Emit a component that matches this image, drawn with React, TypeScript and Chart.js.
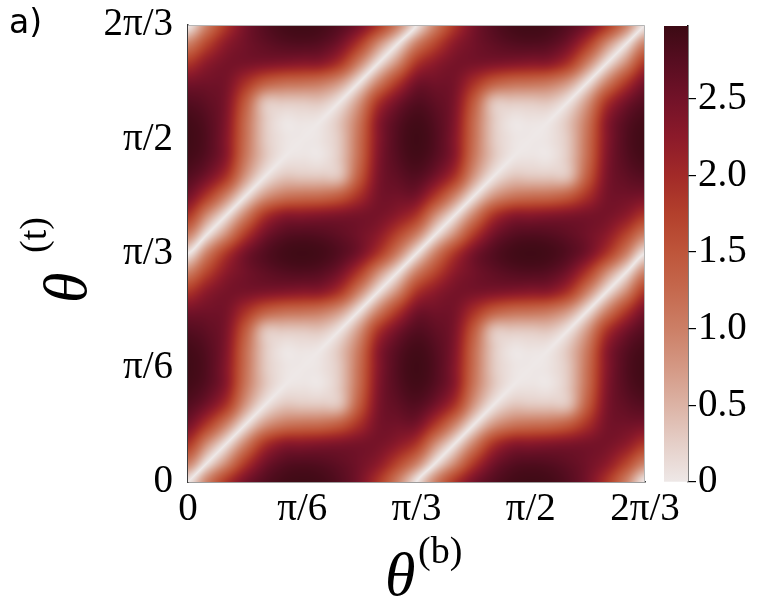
import React, { useEffect, useRef } from 'react';
import { Chart, registerables } from 'chart.js';

Chart.register(...registerables);

const PI = Math.PI;
const thetaMax = (2 * PI) / 3;

// axis ticks
const tickValues = [0, PI / 6, PI / 3, PI / 2, (2 * PI) / 3];
const tickLabels = ['0', 'π/6', 'π/3', 'π/2', '2π/3'];

// colorbar
const colorbarTicks = [0, 0.5, 1, 1.5, 2, 2.5];
const colorbarLabels = ['0', '0.5', '1.0', '1.5', '2.0', '2.5'];
const colorMax = 2.975;
const cmapValues = [0, 0.25, 0.5, 0.75, 1.0, 1.25, 1.5, 1.75, 2.0, 2.25, 2.5, 2.75, 2.975];
const cmapColors = ['#eee8e7', '#e5cfc8', '#dcb3a5', '#d49884', '#cc7f66', '#c5694e', '#be553a', '#b3402c', '#a22a28', '#8c1a2a', '#721228', '#560d20', '#3c0a14'];

// grid nodes (degrees) for theta^(b) (columns) and theta^(t) (rows)
const nodeDegrees = [0, 5, 10, 15, 20, 25, 30, 35, 40, 45, 50, 55, 60, 65, 70, 75, 80, 85, 90, 95, 100, 105, 110, 115, 120];

// values: heatRows[row = theta^(t) node][col = theta^(b) node]
const heatRows: number[][] = [
  [0, 1.0, 1.85, 2.45, 2.75, 2.9, 2.94, 2.9, 2.75, 2.45, 1.85, 1.0, 0, 1.0, 1.85, 2.45, 2.75, 2.9, 2.94, 2.9, 2.75, 2.45, 1.85, 1.0, 0],
  [1.0, 0, 0.85, 1.8, 2.45, 2.72, 2.78, 2.75, 2.65, 2.5, 2.25, 1.7, 1.0, 0, 0.85, 1.8, 2.45, 2.72, 2.78, 2.75, 2.65, 2.5, 2.25, 1.7, 1.0],
  [1.85, 0.85, 0, 0.95, 1.85, 2.25, 2.3, 2.35, 2.4, 2.45, 2.45, 2.25, 1.85, 0.85, 0, 0.95, 1.85, 2.25, 2.3, 2.35, 2.4, 2.45, 2.45, 2.25, 1.85],
  [2.45, 1.8, 0.95, 0, 0.75, 1.1, 1.2, 1.25, 1.45, 1.95, 2.45, 2.5, 2.45, 1.8, 0.95, 0, 0.75, 1.1, 1.2, 1.25, 1.45, 1.95, 2.45, 2.5, 2.45],
  [2.75, 2.45, 1.85, 0.75, 0, 0.35, 0.35, 0.35, 0.45, 1.45, 2.4, 2.65, 2.75, 2.45, 1.85, 0.75, 0, 0.35, 0.35, 0.35, 0.45, 1.45, 2.4, 2.65, 2.75],
  [2.9, 2.72, 2.25, 1.1, 0.35, 0, 0.06, 0.05, 0.35, 1.25, 2.35, 2.75, 2.9, 2.72, 2.25, 1.1, 0.35, 0, 0.06, 0.05, 0.35, 1.25, 2.35, 2.75, 2.9],
  [2.94, 2.78, 2.3, 1.2, 0.35, 0.06, 0, 0.06, 0.35, 1.2, 2.3, 2.78, 2.94, 2.78, 2.3, 1.2, 0.35, 0.06, 0, 0.06, 0.35, 1.2, 2.3, 2.78, 2.94],
  [2.9, 2.75, 2.35, 1.25, 0.35, 0.05, 0.06, 0, 0.35, 1.1, 2.25, 2.72, 2.9, 2.75, 2.35, 1.25, 0.35, 0.05, 0.06, 0, 0.35, 1.1, 2.25, 2.72, 2.9],
  [2.75, 2.65, 2.4, 1.45, 0.45, 0.35, 0.35, 0.35, 0, 0.75, 1.85, 2.45, 2.75, 2.65, 2.4, 1.45, 0.45, 0.35, 0.35, 0.35, 0, 0.75, 1.85, 2.45, 2.75],
  [2.45, 2.5, 2.45, 1.95, 1.45, 1.25, 1.2, 1.1, 0.75, 0, 0.95, 1.8, 2.45, 2.5, 2.45, 1.95, 1.45, 1.25, 1.2, 1.1, 0.75, 0, 0.95, 1.8, 2.45],
  [1.85, 2.25, 2.45, 2.45, 2.4, 2.35, 2.3, 2.25, 1.85, 0.95, 0, 0.85, 1.85, 2.25, 2.45, 2.45, 2.4, 2.35, 2.3, 2.25, 1.85, 0.95, 0, 0.85, 1.85],
  [1.0, 1.7, 2.25, 2.5, 2.65, 2.75, 2.78, 2.72, 2.45, 1.8, 0.85, 0, 1.0, 1.7, 2.25, 2.5, 2.65, 2.75, 2.78, 2.72, 2.45, 1.8, 0.85, 0, 1.0],
  [0, 1.0, 1.85, 2.45, 2.75, 2.9, 2.94, 2.9, 2.75, 2.45, 1.85, 1.0, 0, 1.0, 1.85, 2.45, 2.75, 2.9, 2.94, 2.9, 2.75, 2.45, 1.85, 1.0, 0],
  [1.0, 0, 0.85, 1.8, 2.45, 2.72, 2.78, 2.75, 2.65, 2.5, 2.25, 1.7, 1.0, 0, 0.85, 1.8, 2.45, 2.72, 2.78, 2.75, 2.65, 2.5, 2.25, 1.7, 1.0],
  [1.85, 0.85, 0, 0.95, 1.85, 2.25, 2.3, 2.35, 2.4, 2.45, 2.45, 2.25, 1.85, 0.85, 0, 0.95, 1.85, 2.25, 2.3, 2.35, 2.4, 2.45, 2.45, 2.25, 1.85],
  [2.45, 1.8, 0.95, 0, 0.75, 1.1, 1.2, 1.25, 1.45, 1.95, 2.45, 2.5, 2.45, 1.8, 0.95, 0, 0.75, 1.1, 1.2, 1.25, 1.45, 1.95, 2.45, 2.5, 2.45],
  [2.75, 2.45, 1.85, 0.75, 0, 0.35, 0.35, 0.35, 0.45, 1.45, 2.4, 2.65, 2.75, 2.45, 1.85, 0.75, 0, 0.35, 0.35, 0.35, 0.45, 1.45, 2.4, 2.65, 2.75],
  [2.9, 2.72, 2.25, 1.1, 0.35, 0, 0.06, 0.05, 0.35, 1.25, 2.35, 2.75, 2.9, 2.72, 2.25, 1.1, 0.35, 0, 0.06, 0.05, 0.35, 1.25, 2.35, 2.75, 2.9],
  [2.94, 2.78, 2.3, 1.2, 0.35, 0.06, 0, 0.06, 0.35, 1.2, 2.3, 2.78, 2.94, 2.78, 2.3, 1.2, 0.35, 0.06, 0, 0.06, 0.35, 1.2, 2.3, 2.78, 2.94],
  [2.9, 2.75, 2.35, 1.25, 0.35, 0.05, 0.06, 0, 0.35, 1.1, 2.25, 2.72, 2.9, 2.75, 2.35, 1.25, 0.35, 0.05, 0.06, 0, 0.35, 1.1, 2.25, 2.72, 2.9],
  [2.75, 2.65, 2.4, 1.45, 0.45, 0.35, 0.35, 0.35, 0, 0.75, 1.85, 2.45, 2.75, 2.65, 2.4, 1.45, 0.45, 0.35, 0.35, 0.35, 0, 0.75, 1.85, 2.45, 2.75],
  [2.45, 2.5, 2.45, 1.95, 1.45, 1.25, 1.2, 1.1, 0.75, 0, 0.95, 1.8, 2.45, 2.5, 2.45, 1.95, 1.45, 1.25, 1.2, 1.1, 0.75, 0, 0.95, 1.8, 2.45],
  [1.85, 2.25, 2.45, 2.45, 2.4, 2.35, 2.3, 2.25, 1.85, 0.95, 0, 0.85, 1.85, 2.25, 2.45, 2.45, 2.4, 2.35, 2.3, 2.25, 1.85, 0.95, 0, 0.85, 1.85],
  [1.0, 1.7, 2.25, 2.5, 2.65, 2.75, 2.78, 2.72, 2.45, 1.8, 0.85, 0, 1.0, 1.7, 2.25, 2.5, 2.65, 2.75, 2.78, 2.72, 2.45, 1.8, 0.85, 0, 1.0],
  [0, 1.0, 1.85, 2.45, 2.75, 2.9, 2.94, 2.9, 2.75, 2.45, 1.85, 1.0, 0, 1.0, 1.85, 2.45, 2.75, 2.9, 2.94, 2.9, 2.75, 2.45, 1.85, 1.0, 0],
];

const SERIF = '"Liberation Serif", "Times New Roman", serif';
const TICK_SIZE = 39;

const nodeAngles = nodeDegrees.map((d) => (d * PI) / 180);
const nNodes = nodeAngles.length;
const nodesPerPeriod = 12; // zero lines θt − θb = multiples of π/3

function hexToRgb(h: string): number[] {
  const n = parseInt(h.slice(1), 16);
  return [(n >> 16) & 255, (n >> 8) & 255, n & 255];
}
const cmapRgb = cmapColors.map(hexToRgb);

function colorFor(v: number): number[] {
  if (v <= cmapValues[0]) return cmapRgb[0];
  const last = cmapValues.length - 1;
  if (v >= cmapValues[last]) return cmapRgb[last];
  let i = 0;
  while (i < last - 1 && v > cmapValues[i + 1]) i++;
  const f = (v - cmapValues[i]) / (cmapValues[i + 1] - cmapValues[i]);
  const a = cmapRgb[i];
  const b = cmapRgb[i + 1];
  return [a[0] + (b[0] - a[0]) * f, a[1] + (b[1] - a[1]) * f, a[2] + (b[2] - a[2]) * f];
}

function locate(v: number): [number, number] {
  let k = 0;
  while (k < nNodes - 2 && v > nodeAngles[k + 1]) k++;
  let s = (v - nodeAngles[k]) / (nodeAngles[k + 1] - nodeAngles[k]);
  if (s < 0) s = 0;
  if (s > 1) s = 1;
  return [k, s];
}

// value with the side of the nearest zero line as sign, so the surface can be
// smoothed without filling in the thin zero lines
function signedNode(k: number, l: number): number {
  const kk = Math.max(0, Math.min(nNodes - 1, k));
  const ll = Math.max(0, Math.min(nNodes - 1, l));
  const band = Math.floor((ll - kk) / nodesPerPeriod);
  const sg = ((band % 2) + 2) % 2 === 0 ? 1 : -1;
  return sg * heatRows[ll][kk];
}

function cr(p0: number, p1: number, p2: number, p3: number, t: number): number {
  return 0.5 * (2 * p1 + (-p0 + p2) * t + (2 * p0 - 5 * p1 + 4 * p2 - p3) * t * t + (-p0 + 3 * p1 - 3 * p2 + p3) * t * t * t);
}

function sample(xv: number, yv: number): number {
  const [k, s] = locate(xv);
  const [l, t] = locate(yv);
  const col: number[] = [];
  for (let j = -1; j <= 2; j++) {
    col.push(cr(signedNode(k - 1, l + j), signedNode(k, l + j), signedNode(k + 1, l + j), signedNode(k + 2, l + j), s));
  }
  return Math.abs(cr(col[0], col[1], col[2], col[3], t));
}

const heatmapPlugin = {
  id: 'heatmapCells',
  beforeDatasetsDraw(chart: any) {
    const { ctx, chartArea: a, scales } = chart;
    const xs = scales.x;
    const ys = scales.y;
    const left = Math.round(a.left);
    const top = Math.round(a.top);
    const w = Math.round(a.right) - left;
    const h = Math.round(a.bottom) - top;
    const img = ctx.createImageData(w, h);
    const xVals: number[] = [];
    for (let px = 0; px < w; px++) xVals.push(xs.getValueForPixel(left + px + 0.5));
    for (let py = 0; py < h; py++) {
      const yv = ys.getValueForPixel(top + py + 0.5);
      for (let px = 0; px < w; px++) {
        const c = colorFor(sample(xVals[px], yv));
        const o = (py * w + px) * 4;
        img.data[o] = c[0];
        img.data[o + 1] = c[1];
        img.data[o + 2] = c[2];
        img.data[o + 3] = 255;
      }
    }
    ctx.putImageData(img, left, top);
  },
  afterDraw(chart: any) {
    const { ctx, chartArea: a } = chart;
    ctx.save();
    // light top/right frame
    ctx.strokeStyle = '#b5b5b5';
    ctx.lineWidth = 1;
    ctx.beginPath();
    ctx.moveTo(a.left, a.top + 0.5);
    ctx.lineTo(a.right - 0.5, a.top + 0.5);
    ctx.lineTo(a.right - 0.5, a.bottom);
    ctx.stroke();
    // panel label
    ctx.fillStyle = '#000';
    ctx.textBaseline = 'alphabetic';
    ctx.textAlign = 'left';
    ctx.font = '33px "DejaVu Sans", sans-serif';
    ctx.fillText('a)', 9, 33);
    // x axis title  θ^(b)
    ctx.font = `italic 62px ${SERIF}`;
    ctx.fillText('θ', 385, 595);
    ctx.font = `38px ${SERIF}`;
    ctx.fillText('(b)', 418, 563);
    // y axis title  θ^(t) rotated
    ctx.translate(86, 303);
    ctx.rotate(-PI / 2);
    ctx.font = `italic 62px ${SERIF}`;
    ctx.fillText('θ', 0, 0);
    ctx.font = `38px ${SERIF}`;
    ctx.fillText('(t)', 50, -40);
    ctx.restore();
  },
};

const nodePoints = heatRows.flatMap((row, l) => row.map((v, k) => ({ x: nodeAngles[k], y: nodeAngles[l], v })));

export default function App() {
  const mainRef = useRef<HTMLCanvasElement>(null);
  const cbRef = useRef<HTMLCanvasElement>(null);

  useEffect(() => {
    const main = new Chart(mainRef.current as HTMLCanvasElement, {
      type: 'scatter',
      data: {
        datasets: [
          {
            data: nodePoints as any,
            pointRadius: 0,
            pointHoverRadius: 0,
            showLine: false,
          },
        ],
      },
      options: {
        responsive: false,
        animation: false,
        events: [],
        layout: { padding: { left: 0, top: 25, right: 127, bottom: 0 } },
        plugins: { legend: { display: false }, tooltip: { enabled: false } },
        scales: {
          x: {
            type: 'linear',
            min: 0,
            max: thetaMax,
            afterBuildTicks: (s: any) => {
              s.ticks = tickValues.map((value) => ({ value }));
            },
            afterFit: (s: any) => {
              s.height = 120;
              s.paddingLeft = 0;
              s.paddingRight = 0;
            },
            ticks: {
              callback: (_v: any, i: number) => tickLabels[i],
              font: { family: SERIF, size: TICK_SIZE },
              color: '#000',
              padding: 4,
              maxRotation: 0,
              autoSkip: false,
            },
            grid: { display: false, drawTicks: false },
            border: { display: true, color: '#3c3c3c', width: 1.5 },
          },
          y: {
            type: 'linear',
            min: 0,
            max: thetaMax,
            afterBuildTicks: (s: any) => {
              s.ticks = tickValues.map((value) => ({ value }));
            },
            afterFit: (s: any) => {
              s.width = 188;
              s.paddingTop = 0;
              s.paddingBottom = 0;
            },
            ticks: {
              callback: (_v: any, i: number) => tickLabels[i],
              font: { family: SERIF, size: TICK_SIZE },
              color: '#000',
              padding: 15,
              autoSkip: false,
            },
            grid: { display: false, drawTicks: false },
            border: { display: true, color: '#3c3c3c', width: 1.5 },
          },
        },
      },
      plugins: [heatmapPlugin],
    });

    const cb = new Chart(cbRef.current as HTMLCanvasElement, {
      type: 'bar',
      data: {
        labels: [''],
        datasets: [
          {
            data: [[0, colorMax]] as any,
            borderWidth: 0,
            barPercentage: 1,
            categoryPercentage: 1,
            backgroundColor: (c: any) => {
              const a = c.chart.chartArea;
              if (!a) return cmapColors[0];
              const g = c.chart.ctx.createLinearGradient(0, a.bottom, 0, a.top);
              cmapValues.forEach((v, i) => g.addColorStop(v / colorMax, cmapColors[i]));
              return g;
            },
          },
        ],
      },
      options: {
        responsive: false,
        animation: false,
        events: [],
        layout: { padding: { left: 24, top: 26, right: 0, bottom: 120 } },
        plugins: { legend: { display: false }, tooltip: { enabled: false } },
        scales: {
          x: { display: false },
          y: {
            position: 'right',
            min: 0,
            max: colorMax,
            afterBuildTicks: (s: any) => {
              s.ticks = colorbarTicks.map((value) => ({ value }));
            },
            afterFit: (s: any) => {
              s.width = 84;
              s.paddingTop = 0;
              s.paddingBottom = 0;
            },
            ticks: {
              callback: (_v: any, i: number) => colorbarLabels[i],
              font: { family: SERIF, size: TICK_SIZE },
              color: '#000',
              padding: 2,
              autoSkip: false,
            },
            grid: { display: true, drawOnChartArea: false, drawTicks: true, tickLength: 8, color: '#000', lineWidth: 1.2 },
            border: { display: true, color: '#000', width: 1.5 },
          },
        },
      },
    });

    return () => {
      main.destroy();
      cb.destroy();
    };
  }, []);

  return (
    <div style={{ position: 'fixed', left: 0, top: 0, width: 772, height: 602, background: '#fff' }}>
      <canvas ref={mainRef} width={772} height={602} style={{ position: 'absolute', left: 0, top: 0, width: 772, height: 602 }} />
      <canvas ref={cbRef} width={132} height={602} style={{ position: 'absolute', left: 640, top: 0, width: 132, height: 602 }} />
    </div>
  );
}
